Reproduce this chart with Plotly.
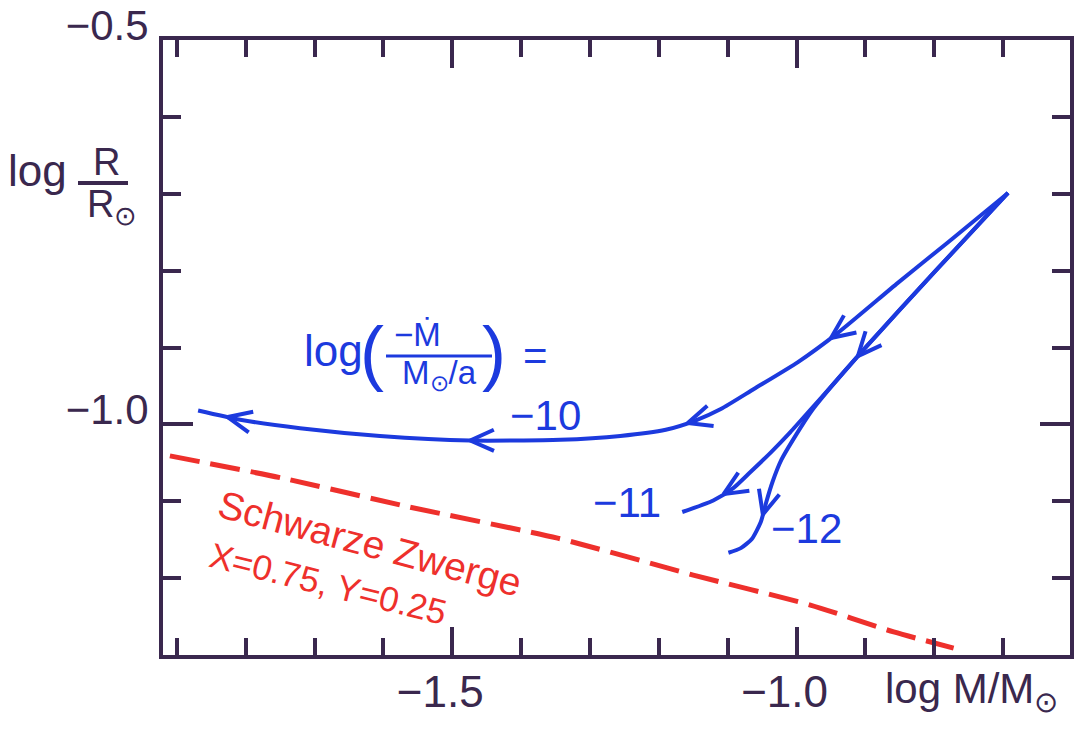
import math
import plotly.graph_objects as go

# ---------------- data ----------------
# curve for log(-Mdot/(Msun/a)) = -10
x_m10 = [-0.693, -0.780, -0.853, -0.940, -0.998, -1.062, -1.110, -1.147, -1.190, -1.256,
         -1.343, -1.474, -1.605, -1.721, -1.808, -1.869]
y_m10 = [-0.699, -0.763, -0.816, -0.881, -0.919, -0.954, -0.980, -0.995, -1.007, -1.015,
         -1.020, -1.021, -1.015, -1.005, -0.994, -0.982]
# curve for -11
x_m11 = [-0.693, -0.798, -0.903, -0.946, -0.980, -1.009, -1.038, -1.067, -1.092, -1.121, -1.166]
y_m11 = [-0.699, -0.800, -0.903, -0.947, -0.981, -1.010, -1.037, -1.062, -1.083, -1.099, -1.114]
# curve for -12
x_m12 = [-0.693, -0.798, -0.903, -0.946, -0.977, -1.001, -1.022, -1.035, -1.044, -1.052,
         -1.065, -1.081, -1.099]
y_m12 = [-0.699, -0.800, -0.903, -0.947, -0.981, -1.014, -1.046, -1.075, -1.101, -1.127,
         -1.149, -1.161, -1.167]
# arrow tip positions (x values along each curve)
arrows_m10 = [-0.950, -1.158, -1.474, -1.826]
arrows_m11 = [-0.911, -1.106]
arrows_m12 = [-1.049]
# black dwarf line (X=0.75, Y=0.25)
x_bd = [-1.910, -1.746, -1.565, -1.347, -1.150, -0.980, -0.859, -0.772]
y_bd = [-1.041, -1.070, -1.107, -1.148, -1.196, -1.235, -1.270, -1.291]

x_tickvals = [-1.5, -1.0]
x_ticktext = ["\u22121.5", "\u22121.0"]
y_tickvals = [-0.5, -1.0]
y_ticktext = ["\u22120.5", "\u22121.0"]
curve_labels = ["\u221210", "\u221211", "\u221212"]

# ---------------- layout constants ----------------
W, H = 1077, 731
ML, MR, MT, MB = 163, 7, 40, 76
PW, PH = W - ML - MR, H - MT - MB
X0, X1 = -1.92, -0.603
Y0, Y1 = -1.30, -0.50

AXC = "rgb(58,40,78)"
BLUE = "rgb(28,58,222)"
RED = "rgb(238,48,44)"
FONT = "Liberation Sans"


def to_px(x, y):
    return ((x - X0) / (X1 - X0) * PW, (Y1 - y) / (Y1 - Y0) * PH)


def to_data(px, py):
    return (X0 + px / PW * (X1 - X0), Y1 - py / PH * (Y1 - Y0))


def arrowheads(xs, ys, tips, length=26, half_angle=24):
    ox, oy = [], []
    pts = [to_px(a, b) for a, b in zip(xs, ys)]
    for tx in tips:
        for i in range(len(xs) - 1):
            xa, xb = xs[i], xs[i + 1]
            if min(xa, xb) <= tx <= max(xa, xb) and xa != xb:
                t = (tx - xa) / (xb - xa)
                pa, pb = pts[i], pts[i + 1]
                tipx = pa[0] + t * (pb[0] - pa[0])
                tipy = pa[1] + t * (pb[1] - pa[1])
                dx, dy = pb[0] - pa[0], pb[1] - pa[1]
                n = math.hypot(dx, dy)
                bx, by = -dx / n, -dy / n
                ends = []
                for s in (1, -1):
                    a = math.radians(half_angle) * s
                    rx = bx * math.cos(a) - by * math.sin(a)
                    ry = bx * math.sin(a) + by * math.cos(a)
                    ends.append(to_data(tipx + rx * length, tipy + ry * length))
                tip = to_data(tipx, tipy)
                ox += [ends[0][0], tip[0], ends[1][0], None]
                oy += [ends[0][1], tip[1], ends[1][1], None]
                break
    return ox, oy


fig = go.Figure()

fig.add_trace(go.Scatter(x=x_bd, y=y_bd, mode="lines",
                         line=dict(color=RED, width=5, dash="30px,11px", shape="spline", smoothing=0.6),
                         hoverinfo="skip"))
for xs, ys, tips in [(x_m10, y_m10, arrows_m10), (x_m11, y_m11, arrows_m11), (x_m12, y_m12, arrows_m12)]:
    fig.add_trace(go.Scatter(x=xs, y=ys, mode="lines",
                             line=dict(color=BLUE, width=4, shape="spline", smoothing=0.6),
                             hoverinfo="skip"))
    ax_, ay_ = arrowheads(xs, ys, tips)
    fig.add_trace(go.Scatter(x=ax_, y=ay_, mode="lines",
                             line=dict(color=BLUE, width=4), hoverinfo="skip"))


def pp(px, py):
    """page pixel -> paper coordinates"""
    return ((px - ML) / PW, (H - MB - py) / PH)


annotations = []


def add_text(text, px, py, size, color, angle=0, family=FONT, xanchor="center"):
    x, y = pp(px, py)
    annotations.append(dict(text=text, x=x, y=y, xref="paper", yref="paper",
                            showarrow=False, textangle=angle, xanchor=xanchor, yanchor="middle",
                            font=dict(family=family, size=size, color=color)))


# curve labels
add_text(curve_labels[0], 545, 416, 42, BLUE)
add_text(curve_labels[1], 627, 502, 42, BLUE)
add_text(curve_labels[2], 806, 528, 42, BLUE)

# formula log(-Mdot / (Msun/a)) =
add_text("log", 333, 350, 44, BLUE)
add_text("(", 372, 352, 72, BLUE)
add_text(")", 494, 352, 72, BLUE)
add_text("\u2212\u1E40", 417, 334, 33, BLUE)
add_text("M<sub>\u2299</sub>/a", 439, 375, 33, BLUE)
add_text("=", 535, 355, 42, BLUE)

# black dwarf labels
add_text("Schwarze Zwerge", 370, 543, 39, RED, angle=15)
add_text("X=0.75, Y=0.25", 328, 583, 35, RED, angle=14)

# axis titles
add_text("log M/M<sub>\u2299</sub>", 971, 692, 42, AXC)
add_text("log", 38, 170, 44, AXC)
add_text("R", 106, 162, 38, AXC)
add_text("R<sub>\u2299</sub>", 112, 207, 38, AXC)

shapes = []
x0p, y0p = pp(386, 356)
x1p, _ = pp(492, 356)
shapes.append(dict(type="line", xref="paper", yref="paper", x0=x0p, x1=x1p, y0=y0p, y1=y0p,
                   line=dict(color=BLUE, width=3)))
x0p, y0p = pp(78, 183)
x1p, _ = pp(128, 183)
shapes.append(dict(type="line", xref="paper", yref="paper", x0=x0p, x1=x1p, y0=y0p, y1=y0p,
                   line=dict(color=AXC, width=4)))

fig.update_layout(
    width=W, height=H,
    margin=dict(l=ML, r=MR, t=MT, b=MB, autoexpand=False),
    paper_bgcolor="white", plot_bgcolor="white",
    showlegend=False,
    annotations=annotations,
    shapes=shapes,
    xaxis=dict(range=[X0, X1], showgrid=False, zeroline=False, automargin=False,
               showline=True, linewidth=4, linecolor=AXC, mirror="allticks",
               tickmode="array", tickvals=x_tickvals, ticktext=x_ticktext,
               ticks="inside", ticklen=28, tickwidth=4, tickcolor=AXC,
               ticklabelstandoff=-5, ticklabelshift=-12, ticklabeloverflow="allow",
               tickfont=dict(family=FONT, size=44, color=AXC),
               minor=dict(dtick=0.1, tick0=-1.0, ticks="inside", ticklen=17,
                          tickwidth=4, tickcolor=AXC, showgrid=False)),
    yaxis=dict(range=[Y0, Y1], showgrid=False, zeroline=False, automargin=False,
               showline=True, linewidth=4, linecolor=AXC, mirror="allticks",
               tickmode="array", tickvals=y_tickvals, ticktext=y_ticktext,
               ticks="inside", ticklen=30, tickwidth=4, tickcolor=AXC,
               ticklabelstandoff=2, ticklabelshift=-15, ticklabeloverflow="allow",
               tickfont=dict(family=FONT, size=42, color=AXC),
               minor=dict(dtick=0.1, tick0=-1.0, ticks="inside", ticklen=18,
                          tickwidth=4, tickcolor=AXC, showgrid=False)),
)

fig.write_html("out.html")
